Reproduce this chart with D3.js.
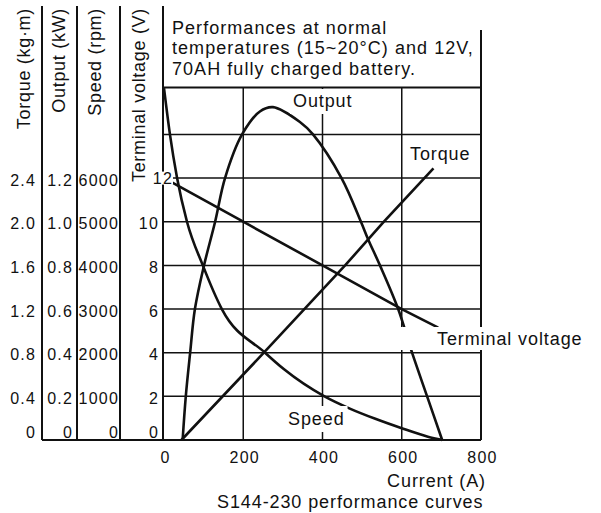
<!DOCTYPE html>
<html>
<head>
<meta charset="utf-8">
<script src="https://cdn.jsdelivr.net/npm/d3@7"></script>
<style>
  html, body { margin: 0; padding: 0; background: #fff; }
  svg { display: block; }
  text { font-family: "Liberation Sans", Arial, Helvetica, sans-serif; fill: #111; }
</style>
</head>
<body>
<svg id="chart" width="601" height="513"></svg>
<script>
// ---- Axis ticks ----
const currentTicks = [0, 200, 400, 600, 800];
const voltageTicks = [0, 2, 4, 6, 8, 10, 12];
const voltageGrid = [2, 4, 6, 8, 10, 12, 14];
const torqueTicks = [0, 0.4, 0.8, 1.2, 1.6, 2.0, 2.4];
const torqueLabels = ["0", "0.4", "0.8", "1.2", "1.6", "2.0", "2.4"];
const outputTicks = [0, 0.2, 0.4, 0.6, 0.8, 1.0, 1.2];
const outputLabels = ["0", "0.2", "0.4", "0.6", "0.8", "1.0", "1.2"];
const speedTicks = [0, 1000, 2000, 3000, 4000, 5000, 6000];
const speedLabels = ["0", "1000", "2000", "3000", "4000", "5000", "6000"];

// ---- Performance curves (current in A) ----
const voltageCurrent = [20, 200, 400, 600, 692];
const voltageValues = [11.8, 10, 8, 6, 5.15];          // V

const torqueCurrent = [44, 252, 457, 555, 680];
const torqueValues = [0, 0.8, 1.6, 2.0, 2.49];          // kg·m

const outputCurrent = [47, 55, 66, 78, 101, 129, 154, 197, 242, 275, 343, 376, 448, 497, 515, 545, 591, 626, 664, 702];
const outputValues = [0, 0.2, 0.4, 0.6, 0.8, 1.0, 1.2, 1.4, 1.505, 1.525, 1.457, 1.4, 1.2, 1.0, 0.92, 0.8, 0.6, 0.4, 0.2, 0]; // kW

const speedCurrent = [0, 15, 33, 58, 98, 146, 255, 303, 405, 469, 535, 600, 666, 702];
const speedValues = [8060, 7000, 6000, 5000, 4000, 3000, 2000, 1620, 1000, 720, 480, 270, 76, 0]; // rpm

const svg = d3.select("#chart");

// ---- Scales ----
const x = d3.scaleLinear().domain([0, 800]).range([164, 481]);
const yTop = 87.5, yBase = 440;
const yV = d3.scaleLinear().domain([0, 16.15]).range([yBase, yTop]);
const yT = d3.scaleLinear().domain([0, 3.23]).range([yBase, yTop]);
const yKW = d3.scaleLinear().domain([0, 1.615]).range([yBase, yTop]);
const yRPM = d3.scaleLinear().domain([0, 8075]).range([yBase, yTop]);

const ink = "#111";

// ---- Grid ----
const grid = svg.append("g").attr("stroke", ink).attr("stroke-width", 1.5).attr("fill", "none");
grid.selectAll("line.h").data(voltageGrid).join("line")
  .attr("class", "h")
  .attr("x1", x(0) - 1).attr("x2", x(800))
  .attr("y1", d => yV(d)).attr("y2", d => yV(d));
grid.selectAll("line.v").data(currentTicks.filter(d => d > 0 && d < 800)).join("line")
  .attr("class", "v")
  .attr("x1", d => x(d)).attr("x2", d => x(d))
  .attr("y1", yTop).attr("y2", yBase);

// Right border of the panel, reaching up beside the note
svg.append("line").attr("stroke", ink).attr("stroke-width", 2)
  .attr("x1", x(800)).attr("x2", x(800)).attr("y1", 30).attr("y2", yBase);

// ---- Curves ----
const curveG = svg.append("g").attr("fill", "none").attr("stroke", ink)
  .attr("stroke-width", 2.6).attr("stroke-linejoin", "round").attr("stroke-linecap", "butt");

function drawSeries(xs, ys, yScale, curve) {
  const pts = xs.map((c, i) => [x(c), yScale(ys[i])]);
  curveG.append("path").attr("d", d3.line().curve(curve)(pts));
}
drawSeries(voltageCurrent, voltageValues, yV, d3.curveLinear);
drawSeries(torqueCurrent, torqueValues, yT, d3.curveLinear);
drawSeries(outputCurrent, outputValues, yKW, d3.curveCatmullRom.alpha(0.5));
drawSeries(speedCurrent, speedValues, yRPM, d3.curveMonotoneX);

// ---- Curve labels on white backing ----
const labelFont = { size: 18, spacing: 0.9 };
const curveLabels = [
  { text: "Output", x: 293, y: 107, pad: [2, 3, 3, 3] },
  { text: "Torque", x: 410, y: 160, pad: [2, 3, 1, 3] },
  { text: "Terminal voltage", x: 437, y: 345, pad: [2, 6, 1, 42] },
  { text: "Speed", x: 288, y: 425, pad: [3, 3, 3, 3] }
];
const labelG = svg.append("g");
curveLabels.forEach(l => {
  const t = labelG.append("text")
    .attr("x", l.x).attr("y", l.y)
    .attr("font-size", labelFont.size)
    .attr("letter-spacing", labelFont.spacing)
    .text(l.text);
  const b = t.node().getBBox();
  labelG.insert("rect", "text")
    .attr("x", b.x - l.pad[3]).attr("y", b.y - l.pad[0])
    .attr("width", b.width + l.pad[1] + l.pad[3])
    .attr("height", b.height + l.pad[0] + l.pad[2])
    .attr("fill", "#fff");
});

// ---- Frame lines ----
const frame = svg.append("g").attr("stroke", ink).attr("stroke-width", 2);
frame.append("line").attr("x1", x(0) - 1).attr("x2", x(800)).attr("y1", yTop).attr("y2", yTop);
frame.append("line").attr("x1", 42).attr("x2", x(800)).attr("y1", yBase).attr("y2", yBase);
[42, 77, 120, 163].forEach(cx => {
  frame.append("line").attr("x1", cx).attr("x2", cx).attr("y1", 6).attr("y2", yBase);
});

// ---- Vertical scale columns ----
function column(scale, values, labels, lineX, pad, title, titleX) {
  const axis = d3.axisLeft(scale)
    .tickValues(values)
    .tickFormat((d, i) => labels[i])
    .tickSize(0)
    .tickPadding(pad);
  const g = svg.append("g").attr("transform", `translate(${lineX},0)`).call(axis);
  g.select(".domain").remove();
  g.selectAll("text")
    .attr("font-size", 16)
    .attr("letter-spacing", 1.2)
    .attr("fill", "#111")
    .attr("dy", d => d === 0 ? -3 : 7);
  g.attr("font-family", null).attr("font-size", null);
  svg.append("text")
    .attr("transform", `translate(${titleX},8) rotate(-90)`)
    .attr("text-anchor", "end")
    .attr("font-size", 18)
    .attr("letter-spacing", 0.7)
    .text(title);
  return g;
}
column(yT, torqueTicks, torqueLabels, 42, 6, "Torque (kg·m)", 30);
column(yKW, outputTicks, outputLabels, 77, 4, "Output (kW)", 65);
column(yRPM, speedTicks, speedLabels, 120, 1, "Speed (rpm)", 101);
const vAxis = column(yV, voltageTicks, voltageTicks.map(String), 163, 4, "Terminal voltage (V)", 145);

// The 12 V label sits across the axis line
vAxis.selectAll(".tick").filter(d => d === 12).each(function () {
  const tick = d3.select(this);
  const t = tick.select("text").attr("x", 10).attr("dy", 5);
  const b = t.node().getBBox();
  tick.insert("rect", "text")
    .attr("x", b.x).attr("y", b.y + 2)
    .attr("width", b.width).attr("height", b.height - 4)
    .attr("fill", "#fff");
});

// ---- Current axis ----
const xAxis = d3.axisBottom(x).tickValues(currentTicks).tickSize(0).tickPadding(0);
const xg = svg.append("g").attr("transform", `translate(1,${yBase})`).call(xAxis);
xg.select(".domain").remove();
xg.attr("font-family", null).attr("font-size", null);
xg.selectAll("text")
  .attr("font-size", 16).attr("letter-spacing", 1.2).attr("fill", "#111")
  .attr("y", 23).attr("dy", 0);

svg.append("text").attr("x", 486).attr("y", 487)
  .attr("text-anchor", "end").attr("font-size", 18).attr("letter-spacing", 0.9)
  .text("Current (A)");
svg.append("text").attr("x", 217).attr("y", 508)
  .attr("font-size", 18).attr("letter-spacing", 0.9)
  .text("S144-230 performance curves");

// ---- Test conditions note ----
const note = svg.append("text").attr("font-size", 18).attr("letter-spacing", 1.05);
["Performances at normal", "temperatures (15~20°C) and 12V,", "70AH fully charged battery."]
  .forEach((line, i) => {
    note.append("tspan").attr("x", 172).attr("y", 33.5 + i * 20.5).text(line);
  });
</script>
</body>
</html>
